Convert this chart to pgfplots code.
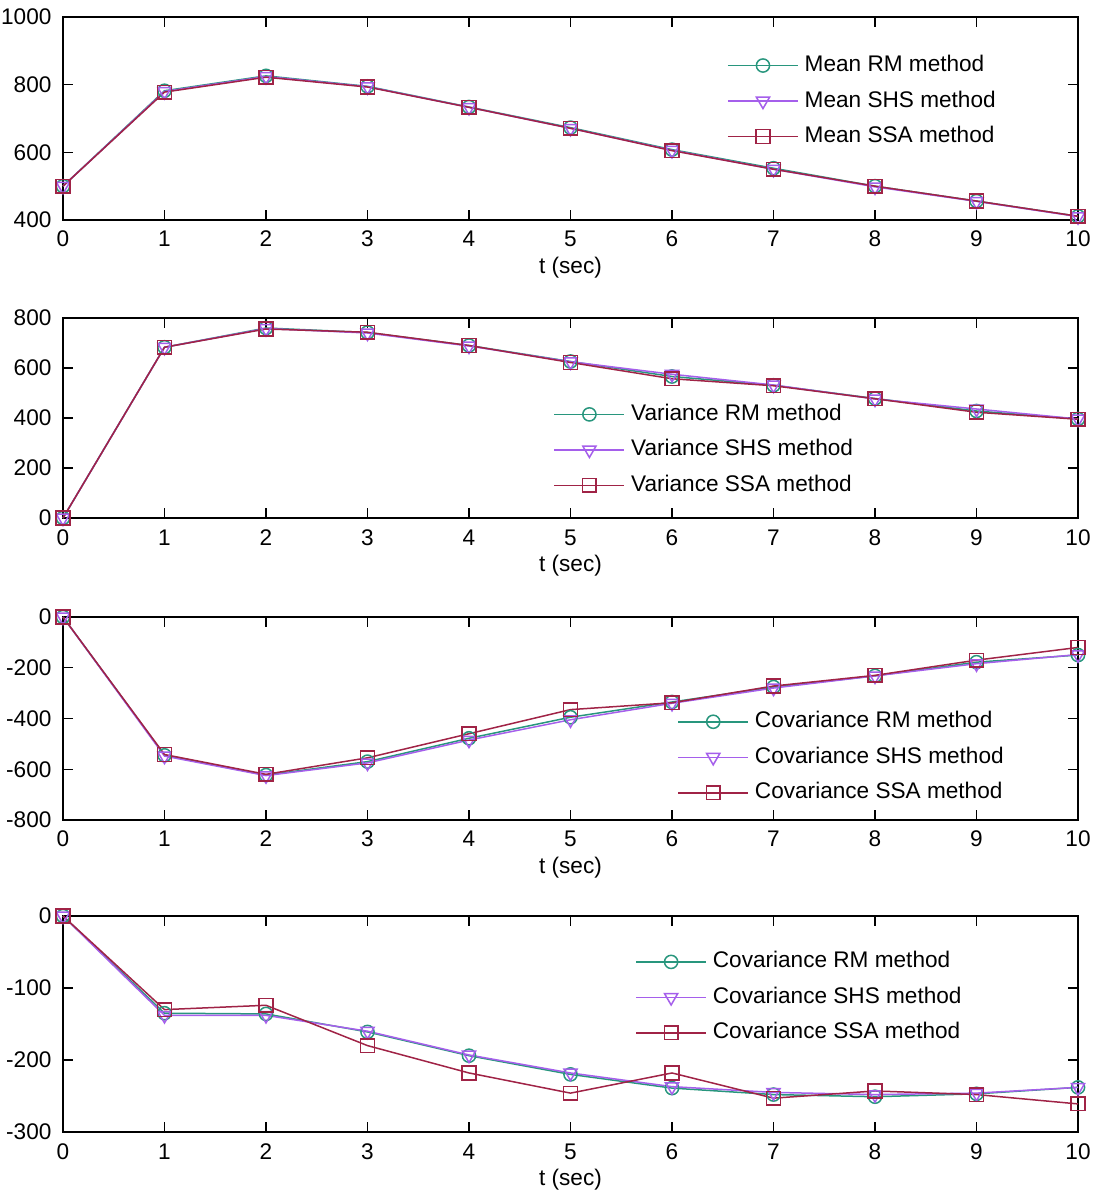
\documentclass[border=0pt]{standalone}
\usepackage{fontspec}
\setmainfont{Liberation Sans}
\usepackage{pgfplots}
\usepackage{pgfplotstable}
\pgfplotsset{compat=1.18}

\definecolor{rmcol}{RGB}{40,150,125}
\definecolor{shscol}{RGB}{165,95,235}
\definecolor{ssacol}{RGB}{160,35,70}

\newcommand{\lblfont}{\fontsize{11.3}{13}\selectfont}

% t, RM, SHS, SSA
\pgfplotstableread{
t   rm   shs  ssa
0   500  500  500
1   782  780  778
2   826  824  822
3   795  794  793
4   734  733  733
5   673  671  671
6   608  606  605
7   553  550  550
8   500  498  500
9   456  455  456
10  411  410  411
}\meantab
\pgfplotstableread{
t   rm   shs  ssa
0   0    0    0
1   683  683  683
2   760  758  756
3   742  740  743
4   690  688  690
5   626  625  622
6   566  575  557
7   531  532  529
8   478  476  477
9   428  436  423
10  396  396  395
}\vartab
\pgfplotstableread{
t   rm    shs   ssa
0   0     0     0
1   -545  -548  -542
2   -623  -625  -620
3   -570  -575  -555
4   -478  -485  -460
5   -395  -405  -365
6   -335  -340  -338
7   -276  -280  -272
8   -232  -232  -230
9   -178  -184  -170
10  -150  -148  -120
}\covatab
\pgfplotstableread{
t   rm    shs   ssa
0   0     0     0
1   -135  -138  -130
2   -136  -138  -124
3   -161  -160  -180
4   -194  -193  -218
5   -220  -218  -246
6   -239  -237  -218
7   -248  -245  -253
8   -251  -248  -243
9   -247  -246  -248
10  -238  -238  -261
}\covbtab

\pgfplotsset{
  panel/.style={
    scale only axis, width=507.5pt,
    xmin=0, xmax=10, xtick={0,...,10},
    tick align=inside, major tick length=5pt,
    axis line style={line width=0.7pt},
    every tick/.style={black, line width=0.7pt},
    /pgf/number format/assume math mode=true,
    /pgf/number format/1000 sep={},
    tick label style={font=\lblfont},
    xticklabel style={anchor=base, yshift=-13.5pt},
    yticklabel style={anchor=east, inner sep=0pt, xshift=-5.6pt},
    xlabel={t (sec)},
    xlabel style={font=\lblfont, at={(rel axis cs:0.5,0)}, anchor=center, yshift=-24pt},
    clip=false,
    legend cell align=left,
    legend style={draw=none, fill=white, inner sep=0pt, row sep=5.75pt,
      column sep=3pt, font=\lblfont,
      nodes={inner sep=0pt, text height=9pt, text depth=3pt}},
    legend image code/.code={
      \draw[mark repeat=2, mark phase=2] plot coordinates {(0pt,0pt) (17.5pt,0pt) (35pt,0pt)};},
  },
  rm/.style={color=rmcol, line width=0.75pt, mark=o, mark size=3.3pt},
  shs/.style={color=shscol, line width=0.75pt, mark=triangle, mark size=3.8pt,
    mark options={rotate=180}},
  ssa/.style={color=ssacol, line width=0.75pt, mark=square, mark size=3.4pt},
}

\begin{document}
\begin{tikzpicture}
\useasboundingbox (0,0) rectangle (549pt,-598.5pt);

% Mean
\begin{axis}[panel, at={(31.5pt,-8.5pt)}, anchor=north west, height=101.5pt,
  ymin=400, ymax=1000, ytick={400,600,800,1000},
  legend style={at={(rel axis cs:0.654,0.822)}, anchor=north west}]
\addplot[rm] table[x=t, y=rm] {\meantab};
\addplot[shs] table[x=t, y=shs] {\meantab};
\addplot[ssa] table[x=t, y=ssa] {\meantab};
\legend{Mean RM method, Mean SHS method, Mean SSA method}
\end{axis}

% Variance
\begin{axis}[panel, at={(31.5pt,-159pt)}, anchor=north west, height=100pt,
  ymin=0, ymax=800, ytick={0,200,400,600,800},
  legend style={at={(rel axis cs:0.483,0.58)}, anchor=north west}]
\addplot[rm] table[x=t, y=rm] {\vartab};
\addplot[shs] table[x=t, y=shs] {\vartab};
\addplot[ssa] table[x=t, y=ssa] {\vartab};
\legend{Variance RM method, Variance SHS method, Variance SSA method}
\end{axis}

% Covariance (first pair)
\begin{axis}[panel, at={(31.5pt,-308.5pt)}, anchor=north west, height=101.5pt,
  ymin=-800, ymax=0, ytick={-800,-600,-400,-200,0},
  yticklabels={-800,-600,-400,-200,0},
  legend style={at={(rel axis cs:0.605,0.545)}, anchor=north west}]
\addplot[rm] table[x=t, y=rm] {\covatab};
\addplot[shs] table[x=t, y=shs] {\covatab};
\addplot[ssa] table[x=t, y=ssa] {\covatab};
\legend{Covariance RM method, Covariance SHS method, Covariance SSA method}
\end{axis}

% Covariance (second pair)
\begin{axis}[panel, at={(31.5pt,-458pt)}, anchor=north west, height=108pt,
  ymin=-300, ymax=0, ytick={-300,-200,-100,0},
  yticklabels={-300,-200,-100,0},
  legend style={at={(rel axis cs:0.5635,0.845)}, anchor=north west}]
\addplot[rm] table[x=t, y=rm] {\covbtab};
\addplot[shs] table[x=t, y=shs] {\covbtab};
\addplot[ssa] table[x=t, y=ssa] {\covbtab};
\legend{Covariance RM method, Covariance SHS method, Covariance SSA method}
\end{axis}
\end{tikzpicture}
\end{document}
